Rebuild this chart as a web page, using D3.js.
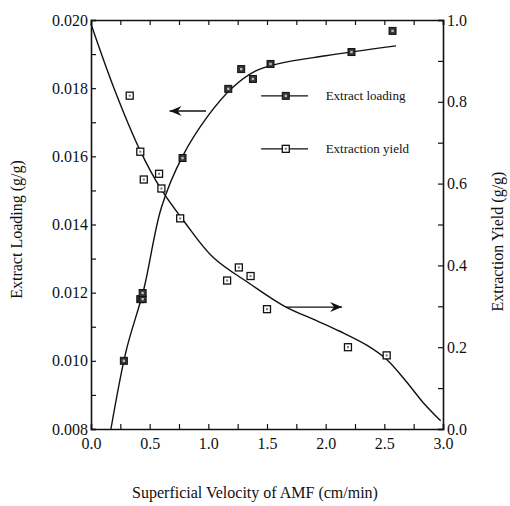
<!DOCTYPE html>
<html>
<head>
<meta charset="utf-8">
<script src="https://cdn.jsdelivr.net/npm/d3@7"></script>
<style>
  body { margin: 0; background: #fff; }
  svg text { font-family: "Liberation Serif", "Times New Roman", Times, "DejaVu Serif", serif; fill: #111; }
</style>
</head>
<body>
<div id="chart"></div>
<script>
// velocity (cm/min) and measured points
var loadVel = [0.28, 0.42, 0.44, 0.44, 0.78, 1.17, 1.28, 1.38, 1.53, 2.22, 2.57];
var loadVal = [0.0100, 0.01181, 0.01181, 0.01199, 0.01595, 0.01798, 0.01856, 0.01827, 0.01871, 0.01906, 0.01968];

var yieldVel = [0.33, 0.42, 0.45, 0.58, 0.60, 0.76, 1.16, 1.26, 1.36, 1.50, 2.19, 2.52];
var yieldVal = [0.815, 0.678, 0.61, 0.624, 0.588, 0.515, 0.363, 0.395, 0.374, 0.293, 0.20, 0.18];

// fitted curves
var loadFitVel = [0.17, 0.30, 0.45, 0.60, 0.78, 1.00, 1.20, 1.40, 1.60, 2.00, 2.60];
var loadFitVal = [0.0080, 0.0103, 0.0121, 0.0145, 0.0160, 0.0172, 0.0180, 0.0185, 0.01872, 0.01895, 0.01924];

var yieldFitVel = [0.0, 0.20, 0.42, 0.60, 0.80, 1.04, 1.36, 1.65, 1.93, 2.12, 2.35, 2.52, 2.69, 2.83, 2.98];
var yieldFitVal = [0.99, 0.83, 0.68, 0.585, 0.505, 0.42, 0.354, 0.30, 0.264, 0.239, 0.205, 0.17, 0.115, 0.065, 0.02];

var xTicks = [0, 0.5, 1.0, 1.5, 2.0, 2.5, 3.0];
var leftTicks = [0.008, 0.010, 0.012, 0.014, 0.016, 0.018, 0.020];
var rightTicks = [0, 0.2, 0.4, 0.6, 0.8, 1.0];

var svgWidth = 510, svgHeight = 506;
var margin = {top: 20, right: 67, bottom: 77, left: 91};
var width = svgWidth - margin.left - margin.right;
var height = svgHeight - margin.top - margin.bottom;
var serif = "'Liberation Serif', 'Times New Roman', Times, serif";

var svg = d3.select("#chart").append("svg")
  .attr("width", svgWidth)
  .attr("height", svgHeight)
  .attr("font-family", serif);

var g = svg.append("g")
  .attr("transform", `translate(${margin.left}, ${margin.top})`);

var x = d3.scaleLinear().domain([0, 3]).range([0, width]);
var yL = d3.scaleLinear().domain([0.008, 0.020]).range([height, 0]);
var yR = d3.scaleLinear().domain([0, 1]).range([height, 0]);

// axes: ticks point inward
var bottomAxis = d3.axisBottom(x).tickValues(d3.range(0, 3.01, 0.25)).tickSize(-5)
  .tickFormat(d => xTicks.indexOf(d) >= 0 ? d.toFixed(1) : "");
var topAxis = d3.axisTop(x).tickValues(d3.range(0, 3.01, 0.25)).tickSize(-5).tickFormat("");
var leftAxis = d3.axisLeft(yL).tickValues(d3.range(0.008, 0.02001, 0.001)).tickSize(-5)
  .tickFormat(d => leftTicks.some(t => Math.abs(t - d) < 1e-6) ? d.toFixed(3) : "");
var rightAxis = d3.axisRight(yR).tickValues(d3.range(0, 1.001, 0.1)).tickSize(-5)
  .tickFormat(d => rightTicks.some(t => Math.abs(t - d) < 1e-6) ? d.toFixed(1) : "");

function styleAxis(sel) {
  sel.attr("font-family", serif).attr("font-size", 16);
  sel.selectAll("path").attr("stroke", "#111").attr("stroke-width", 1.6);
  sel.selectAll("line").attr("stroke", "#111").attr("stroke-width", 1.2);
  sel.selectAll("text").attr("fill", "#111");
}

g.append("g").attr("transform", `translate(0, ${height})`).call(bottomAxis).call(styleAxis)
  .selectAll("text").attr("dy", "1.05em");
g.append("g").call(topAxis).call(styleAxis);
g.append("g").call(leftAxis).call(styleAxis)
  .selectAll("text").attr("x", -3);
g.append("g").attr("transform", `translate(${width}, 0)`).call(rightAxis).call(styleAxis)
  .selectAll("text").attr("x", 4);

// fitted curves
var loadLine = d3.line().x(d => x(d[0])).y(d => yL(d[1])).curve(d3.curveCatmullRom.alpha(0.5));
var yieldLine = d3.line().x(d => x(d[0])).y(d => yR(d[1])).curve(d3.curveCatmullRom.alpha(0.5));

g.append("path")
  .datum(d3.zip(loadFitVel, loadFitVal))
  .attr("d", loadLine)
  .attr("fill", "none").attr("stroke", "#111").attr("stroke-width", 1.4);

g.append("path")
  .datum(d3.zip(yieldFitVel, yieldFitVal))
  .attr("d", yieldLine)
  .attr("fill", "none").attr("stroke", "#111").attr("stroke-width", 1.4);

// markers
function loadMarker(sel) {
  sel.append("rect").attr("x", -3.5).attr("y", -3.5).attr("width", 7).attr("height", 7)
    .attr("fill", "#333").attr("stroke", "#111").attr("stroke-width", 1);
  sel.append("rect").attr("x", -1.2).attr("y", -1.2).attr("width", 2.4).attr("height", 2.4)
    .attr("fill", "#bbb");
}
function yieldMarker(sel) {
  sel.append("rect").attr("x", -3.5).attr("y", -3.5).attr("width", 7).attr("height", 7)
    .attr("fill", "#fff").attr("stroke", "#111").attr("stroke-width", 1.3);
  sel.append("rect").attr("x", -1).attr("y", -1).attr("width", 2).attr("height", 2)
    .attr("fill", "#777");
}

g.selectAll(".loadPt").data(d3.zip(loadVel, loadVal)).enter().append("g")
  .attr("class", "loadPt")
  .attr("transform", d => `translate(${x(d[0])}, ${yL(d[1])})`)
  .call(loadMarker);

g.selectAll(".yieldPt").data(d3.zip(yieldVel, yieldVal)).enter().append("g")
  .attr("class", "yieldPt")
  .attr("transform", d => `translate(${x(d[0])}, ${yR(d[1])})`)
  .call(yieldMarker);

// arrows pointing to each curve's axis
function arrow(x1, x2, yy, dir) {
  g.append("line").attr("x1", x1).attr("x2", x2).attr("y1", yy).attr("y2", yy)
    .attr("stroke", "#111").attr("stroke-width", 1.4);
  g.append("path")
    .attr("d", `M${x2},${yy} l${-dir * 12},-5 l${dir * 4},5 l${-dir * 4},5 Z`)
    .attr("fill", "#111");
}
arrow(x(0.98), x(0.67), yL(0.01733), -1);
arrow(x(1.66), x(2.14), yR(0.298), 1);

// legend
var legend = g.append("g");
var legItems = [["Extract loading", loadMarker, 0.8145], ["Extraction yield", yieldMarker, 0.685]];
legItems.forEach(function(it) {
  var yy = yR(it[2]);
  legend.append("line").attr("x1", x(1.45)).attr("x2", x(1.85)).attr("y1", yy).attr("y2", yy)
    .attr("stroke", "#111").attr("stroke-width", 1.3);
  legend.append("g").attr("transform", `translate(${x(1.66)}, ${yy})`).call(it[1]);
  legend.append("text").attr("x", x(2.0)).attr("y", yy + 4).attr("font-size", 13).text(it[0]);
});

// axis titles
svg.append("text")
  .attr("transform", `translate(22, ${margin.top + height / 2 + 5}) rotate(-90)`)
  .attr("text-anchor", "middle").attr("font-size", 16)
  .text("Extract Loading (g/g)");

svg.append("text")
  .attr("transform", `translate(503, ${margin.top + height / 2 + 17}) rotate(-90)`)
  .attr("text-anchor", "middle").attr("font-size", 16)
  .text("Extraction Yield (g/g)");

svg.append("text")
  .attr("x", 255).attr("y", 498)
  .attr("text-anchor", "middle").attr("font-size", 16)
  .text("Superficial Velocity of AMF (cm/min)");
</script>
</body>
</html>
